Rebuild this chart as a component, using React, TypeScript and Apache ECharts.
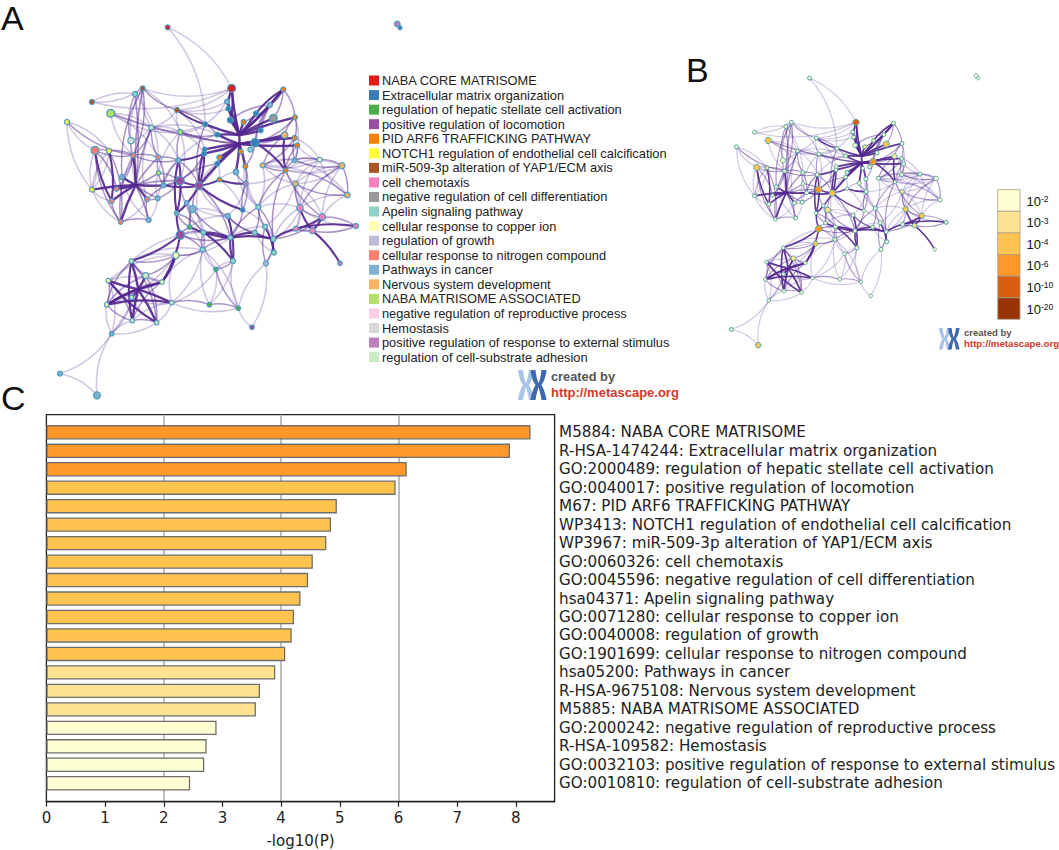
import React, { useEffect, useRef } from "react";
import * as echarts from "echarts";

// ---------- Panel C ----------
const termLabels = [
  "M5884: NABA CORE MATRISOME",
  "R-HSA-1474244: Extracellular matrix organization",
  "GO:2000489: regulation of hepatic stellate cell activation",
  "GO:0040017: positive regulation of locomotion",
  "M67: PID ARF6 TRAFFICKING PATHWAY",
  "WP3413: NOTCH1 regulation of endothelial cell calcification",
  "WP3967: miR-509-3p alteration of YAP1/ECM axis",
  "GO:0060326: cell chemotaxis",
  "GO:0045596: negative regulation of cell differentiation",
  "hsa04371: Apelin signaling pathway",
  "GO:0071280: cellular response to copper ion",
  "GO:0040008: regulation of growth",
  "GO:1901699: cellular response to nitrogen compound",
  "hsa05200: Pathways in cancer",
  "R-HSA-9675108: Nervous system development",
  "M5885: NABA MATRISOME ASSOCIATED",
  "GO:2000242: negative regulation of reproductive process",
  "R-HSA-109582: Hemostasis",
  "GO:0032103: positive regulation of response to external stimulus",
  "GO:0010810: regulation of cell-substrate adhesion",
];
const logP = [8.25, 7.9, 6.14, 5.95, 4.95, 4.85, 4.77, 4.54, 4.46, 4.33, 4.22, 4.18, 4.07, 3.9, 3.64, 3.57, 2.9, 2.73, 2.69, 2.45];
const barBins = [3, 3, 3, 2, 2, 2, 2, 2, 2, 2, 2, 2, 2, 1, 1, 1, 0, 0, 0, 0];
const xTicks = [0, 1, 2, 3, 4, 5, 6, 7, 8];
const xGridValues = [2, 4, 6];

// ---------- Colour key ----------
const binColors = ["#ffffd4", "#fee391", "#fec44f", "#fe9929", "#d95f0e", "#993404"];
const binExponents = ["-2", "-3", "-4", "-6", "-10", "-20"];

// ---------- Panel A legend ----------
const clusterNames = [
  "NABA CORE MATRISOME",
  "Extracellular matrix organization",
  "regulation of hepatic stellate cell activation",
  "positive regulation of locomotion",
  "PID ARF6 TRAFFICKING PATHWAY",
  "NOTCH1 regulation of endothelial cell calcification",
  "miR-509-3p alteration of YAP1/ECM axis",
  "cell chemotaxis",
  "negative regulation of cell differentiation",
  "Apelin signaling pathway",
  "cellular response to copper ion",
  "regulation of growth",
  "cellular response to nitrogen compound",
  "Pathways in cancer",
  "Nervous system development",
  "NABA MATRISOME ASSOCIATED",
  "negative regulation of reproductive process",
  "Hemostasis",
  "positive regulation of response to external stimulus",
  "regulation of cell-substrate adhesion",
];
const clusterColors = [
  "#e41a1c", "#377eb8", "#4daf4a", "#984ea3", "#ff7f00", "#ffff33", "#a65628", "#f781bf", "#999999", "#8dd3c7",
  "#ffffb3", "#bebada", "#fb8072", "#80b1d3", "#fdb462", "#b3de69", "#fccde5", "#d9d9d9", "#bc80bd", "#ccebc5",
];

// ---------- Network: x, y, cluster, size, p-value bin ----------
const nodes: number[][] = [
  [503, 82, 0, 5, 0], [695, 265, 0, 8, 4], [850, 268, 4, 5, 0], [428, 265, 6, 5, 0], [405, 282, 9, 5, 0],
  [276, 306, 6, 5, 0], [332, 340, 15, 8, 2], [531, 330, 6, 5, 0], [681, 305, 13, 5, 0], [685, 326, 1, 5, 0],
  [810, 315, 13, 5, 0], [820, 355, 8, 8, 2], [768, 340, 1, 5, 0], [885, 352, 4, 5, 0], [201, 366, 5, 5, 0],
  [454, 383, 19, 5, 0], [541, 396, 15, 5, 0], [616, 373, 1, 5, 0], [691, 360, 1, 6, 0], [731, 366, 4, 5, 1],
  [782, 391, 1, 5, 0], [854, 405, 14, 6.5, 1], [884, 414, 4, 5, 0], [892, 436, 4, 5, 0], [652, 404, 1, 5, 0],
  [393, 422, 17, 6.5, 0], [285, 451, 12, 8, 2], [327, 453, 5, 5, 1], [400, 466, 12, 5, 0], [475, 472, 12, 5, 0],
  [765, 428, 1, 8.5, 3], [751, 449, 9, 5, 0], [612, 461, 1, 5, 0], [614, 448, 1, 4.5, 0], [658, 472, 4, 5, 0],
  [723, 455, 4, 4.5, 0], [535, 481, 13, 5, 0], [652, 491, 1, 5, 0], [736, 499, 4, 5, 0], [788, 496, 14, 5, 0],
  [884, 481, 13, 5, 0], [959, 479, 10, 5, 0], [1026, 497, 14, 6, 0], [857, 511, 4, 4.5, 0], [476, 519, 15, 4.5, 0],
  [366, 531, 13, 5, 0], [708, 516, 13, 5.5, 0], [540, 542, 3, 8.5, 3], [658, 539, 4, 4.5, 0], [597, 557, 3, 8, 2],
  [737, 551, 18, 5, 0], [886, 551, 14, 5.5, 1], [276, 569, 5, 5, 0], [350, 567, 12, 4.5, 0], [491, 556, 13, 5, 0],
  [1042, 585, 14, 5.5, 0], [335, 603, 12, 5, 0], [441, 598, 12, 5, 0], [473, 595, 13, 5, 0], [560, 609, 13, 4.5, 0],
  [578, 627, 13, 7, 1], [728, 630, 1, 4.5, 0], [775, 621, 9, 5, 0], [900, 624, 7, 6.5, 2], [967, 651, 7, 6.5, 2],
  [683, 648, 13, 5, 0], [362, 666, 12, 4.5, 0], [446, 660, 13, 5, 0], [530, 640, 13, 4.5, 0], [1068, 678, 7, 5, 0],
  [888, 686, 7, 5, 0], [937, 692, 7, 6, 1], [795, 680, 9, 5, 0], [764, 698, 9, 5, 0], [569, 681, 2, 4.5, 0],
  [610, 697, 9, 5, 0], [691, 713, 9, 5, 0], [820, 717, 9, 5, 0], [541, 705, 3, 8.5, 3], [608, 749, 9, 5, 0],
  [528, 766, 10, 6.5, 2], [822, 758, 9, 5, 0], [699, 783, 9, 5, 0], [798, 790, 11, 5, 0], [1020, 790, 18, 4.5, 0],
  [394, 783, 19, 4.5, 0], [648, 808, 2, 4.5, 0], [437, 827, 19, 6, 1], [325, 842, 10, 4.5, 0], [486, 846, 10, 4.5, 0],
  [395, 892, 19, 4.5, 0], [320, 914, 10, 4.5, 0], [515, 908, 19, 4.5, 0], [628, 914, 2, 4.5, 0], [715, 925, 2, 4.5, 0],
  [397, 962, 19, 4.5, 0], [470, 968, 19, 4.5, 0], [756, 982, 3, 4.5, 0], [335, 1001, 13, 4.5, 0], [180, 1121, 13, 5, 0],
  [291, 1186, 13, 7, 2], [718, 405, -1, 0, 0], [718, 432, -1, 0, 0], [407, 555, -1, 0, 0], [415, 868, -1, 0, 0],
  [1192, 72, 18, 5.5, 0], [1200, 83, 1, 4, 0],
];
const H0 = 101, H1 = 102, H2 = 103, H3 = 104;

const heavyLinks: number[][] = [
  [H0, H1], [1, H0], [9, H0], [18, H0], [19, H0], [12, H0], [10, H0], [2, H0], [13, H0], [20, H0], [17, H0], [11, H0], [8, H0], [24, H0],
  [21, H1], [30, H1], [22, H1], [23, H1], [24, H1], [32, H1], [33, H1], [35, H1], [37, H1], [34, H1], [38, H1], [46, H1], [49, H1],
  [1, 9], [1, 18], [2, 12], [30, 43], [21, 43], [7, 17], [36, 32], [32, 49], [33, 49],
  [52, H2], [28, H2], [53, H2], [66, H2], [56, H2], [54, H2], [57, H2], [45, H2], [26, 56], [27, 56], [49, 54],
  [47, 49], [49, 68], [47, 68], [68, 78], [78, 85], [78, 89], [80, 89], [36, 47], [36, 68], [49, 61], [48, 49], [48, 50],
  [74, 76], [75, 76], [76, 77], [76, 73], [73, 77], [77, 81], [76, 82], [75, 82], [65, 82], [72, 81], [77, 70], [70, 69], [71, 84], [63, 71], [64, 71], [70, 64],
  [85, H3], [87, H3], [88, H3], [89, H3], [90, H3], [91, H3], [92, H3], [95, H3], [96, H3], [91, 92], [88, 96], [85, 95], [89, 91],
];
const mediumLinks: number[][] = [
  [14, 28], [7, 24], [15, 28], [15, 29], [16, 24], [16, 36], [3, 7], [3, 45], [3, 28], [26, 27], [26, 28], [27, 28], [28, 29],
  [29, 36], [29, 54], [44, 29], [44, 54], [47, 54], [47, 58], [58, 57], [57, 67], [66, 67], [56, 66], [62, 43], [62, 72], [61, 50],
  [50, 38], [62, 76], [65, 76], [43, 40], [40, 41], [41, 42], [42, 55], [39, 43], [40, 42], [51, 55], [51, 63], [63, 42], [64, 43],
  [43, 77], [22, 40], [13, 22], [13, 21], [2, 13], [2, 11], [10, 2], [60, 74], [59, 74], [59, 68], [60, 49], [74, 78],
  [75, 79], [79, 80], [80, 85], [80, 87], [86, 82], [86, 94], [92, 93], [93, 94], [83, 72], [85, 87], [88, 91], [91, 95], [95, 96],
  [36, 49], [29, H2], [6, H1], [32, 47], [17, 49], [79, 76], [83, 77], [64, 63], [71, 70],
  [2, 20], [2, 19], [10, 18], [2, 30], [10, 30], [13, 30], [21, 30], [38, 30], [16, H1], [28, 36], [37, 47], [36, 54], [44, 47], [47, 57],
  [26, 53], [26, 66], [27, 66], [28, 66], [28, 53], [3, H2], [4, H2], [15, H2], [67, H2], [58, H2], [44, H2], [47, H2],
  [68, 75], [68, 74], [78, 75], [78, 79], [78, 76], [49, 76], [60, 76], [61, 76], [62, 73], [62, 77], [65, 73], [46, 50],
  [64, 69], [71, 69], [64, 77], [22, 39], [23, 40], [23, 43], [21, 39], [85, 91], [85, 96], [87, 91], [87, 96], [88, 95], [89, 95],
];
const lightLinks: number[][] = [
  [0, 1], [0, 17], [5, 3], [5, 1], [3, 1], [14, 52], [6, 16], [6, 15], [25, 15], [25, 4], [4, 3], [4, 28], [39, 41], [39, 42], [40, 55],
  [41, 55], [51, 42], [64, 55], [23, 41], [43, 50], [62, 51], [86, 93], [86, 75], [92, 86], [97, 94], [97, 83], [79, 93], [79, 94], [94, 83],
  [85, 89], [87, 89], [96, 92], [98, 95], [98, 96], [98, 91], [98, 99], [98, 100], [99, 100], [98, H3], [80, 76], [15, 7], [16, 7], [4, 29],
  [8, 7], [17, 16], [24, 36], [15, 57], [16, 47], [26, 52], [27, 52], [52, 56], [28, 45], [45, 67], [57, 66], [58, 67], [44, 58], [36, 58],
  [39, 51], [39, 62], [38, 62], [46, 62], [48, 61], [50, 62], [50, 65], [60, 65], [61, 72], [65, 73], [72, 77], [73, 81], [62, 63], [51, 72],
  [51, 64], [41, 51], [63, 70], [43, 51], [77, 63], [88, 90], [90, 92], [95, 92], [85, 88], [80, 92], [85, 80], [79, 75], [74, 79], [74, 65],
  [59, 65], [49, 65], [47, 59], [60, 75], [37, 49], [34, 49], [37, 48], [33, 7], [32, 16], [1, 8],
  [25, H2], [14, 27], [14, 26], [52, 26], [52, 27], [52, 66], [60, 59], [49, 75], [47, 75], [72, 76], [65, 77], [50, 61], [38, 50], [38, 61], [46, 48],
  [41, 43], [42, 43], [42, 51], [55, 39], [55, 43], [41, 63], [42, 64], [55, 63], [51, 71], [51, 70], [63, 69], [63, 77], [71, 77], [13, 40], [22, 41], [39, 40],
  [80, 88], [80, 91], [79, 85], [75, 85], [79, 89], [79, 92], [82, 93], [82, 94], [82, 86], [81, 83], [86, 79], [92, 94], [90, 91], [90, 96], [98, 88], [98, 90], [88, 89],
  [15, 16], [3, 15], [3, 16], [3, 25], [6, 28], [6, 29], [5, 4], [7, 1], [7, 9], [17, 1], [15, 17], [15, 24], [15, 36], [16, 44],
];

echarts.graphic.registerShape(
  "metascapeX",
  echarts.graphic.extendPath(
    "M0 0 L5 0 C6 8 7 11 8 13 C9 11 10 8 11 0 L16 0 C15 10 12 13 11 15 C12 17 15 22 16 30 L11 30 C10 24 9 20 8 17 C7 20 6 24 5 30 L0 30 C1 22 4 17 5 15 C4 13 1 10 0 0 Z",
    {}
  )
);

const panelLetters: [string, number, number][] = [["A", 1, 18], ["B", 686, 70], ["C", 1, 398]];

function linkSet(links: number[][], width: number, color: string, curve: number) {
  return links.map(([a, b]) => {
    const hub = a >= H0 && a <= H3 || b >= H0 && b <= H3;
    const c = hub ? curve * 0.4 : curve;
    return { source: a, target: b, lineStyle: { width: hub ? width * 1.15 : width, color, opacity: 1, curveness: (a + b) % 2 ? c : -c } };
  });
}

function allLinks(k: number) {
  return [
    ...linkSet(lightLinks, 1.5 * k, "rgba(96,62,160,0.3)", 0.18),
    ...linkSet(mediumLinks, 1.5 * k, "rgba(84,39,143,0.5)", 0.16),
    ...linkSet(heavyLinks, 2.1 * k, "rgba(84,39,143,0.92)", 0.1),
  ];
}

function logo(x: number, y: number, k: number, textK: number, textX: number, y1: number, y2: number) {
  const font = "Liberation Sans";
  return [
    { type: "metascapeX", x, y, scaleX: k, scaleY: k, style: { fill: "#a9c4e8" } },
    { type: "metascapeX", x: x + 12.5 * k, y, scaleX: k, scaleY: k, style: { fill: "#3f68b0" } },
    { type: "text", x: textX, y: y1, style: { text: "created by", fontFamily: font, fontSize: 12.8 * textK, fontWeight: "bold", fill: "#555", verticalAlign: "middle" } },
    { type: "text", x: textX, y: y2, style: { text: "http://metascape.org", fontFamily: font, fontSize: 13 * textK, fontWeight: "bold", fill: "#d23a28", verticalAlign: "middle" } },
  ];
}

const hiddenValueAxis = (gridIndex: number, min: number, max: number, inverse = false) => ({
  type: "value" as const, gridIndex, min, max, inverse, show: false, splitLine: { show: false },
});

export default function App() {
  const ref = useRef<HTMLDivElement>(null);
  useEffect(() => {
    const chart = echarts.init(ref.current!, undefined, { renderer: "svg" });
    const grids = [
      { left: 46.4, top: 414.7, width: 508.2, height: 387, show: true, borderColor: "#222", borderWidth: 1.3, backgroundColor: "#fff" },
      { left: 46.4, top: 423.07, width: 508.2, height: 369.4 },
      { left: 0, top: 0, width: 420, height: 410 },
      { left: 687.8, top: 58.2, width: 420 * 0.726, height: 410 * 0.726 },
    ];
    chart.setOption({
      animation: false,
      backgroundColor: "#fff",
      grid: grids,
      xAxis: [
        {
          type: "value", gridIndex: 0, min: 0, max: 8.66, position: "bottom", name: "-log10(P)", nameLocation: "middle", nameGap: 31.5,
          nameTextStyle: { fontFamily: "DejaVu Sans", fontSize: 15, color: "#222" },
          axisLine: { show: true, onZero: false, lineStyle: { color: "#222", width: 1.3 } },
          axisTick: { show: true, length: 5, customValues: xTicks, lineStyle: { color: "#222", width: 1.2 } },
          axisLabel: { customValues: xTicks, fontFamily: "DejaVu Sans", fontSize: 15, color: "#222", margin: 9, formatter: (v: number) => String(v) },
          splitLine: { show: false },
        },
        {
          type: "value", gridIndex: 0, min: 0, max: 8.66, position: "bottom",
          axisLine: { show: false }, axisLabel: { show: false },
          axisTick: { show: false, customValues: xGridValues },
          splitLine: { show: true, lineStyle: { color: "#b8b8b8", width: 1.8 } },
        },
        hiddenValueAxis(1, 0, 8.66),
        hiddenValueAxis(2, 0, 1260),
        hiddenValueAxis(3, 0, 1260),
      ],
      yAxis: [
        hiddenValueAxis(0, 0, 1),
        {
          type: "category", gridIndex: 1, data: termLabels, inverse: true, position: "right",
          axisLine: { show: false }, axisTick: { show: false },
          axisLabel: { interval: 0, fontFamily: "DejaVu Sans", fontSize: 15.15, color: "#222", margin: 4.5, padding: [2, 0, 0, 0] },
        },
        hiddenValueAxis(2, 0, 1230, true),
        hiddenValueAxis(3, 0, 1230, true),
      ],
      legend: {
        left: 369, top: 74, padding: 0, orient: "vertical", itemWidth: 10, itemHeight: 10, itemGap: 1.56, selectedMode: false, icon: "rect",
        data: clusterNames,
        itemStyle: { borderWidth: 0 },
        textStyle: { fontFamily: "Liberation Sans", fontSize: 12.8, color: "#222", padding: [0, 0, 0, -2] },
      },
      series: [
        {
          type: "bar", xAxisIndex: 2, yAxisIndex: 1, barWidth: 14.4,
          data: logP.map((v, i) => ({ value: v, itemStyle: { color: binColors[barBins[i]] } })),
          itemStyle: { borderColor: "#6e6e6e", borderWidth: 1.3 },
        },
        {
          type: "graph", name: "cluster network", coordinateSystem: "cartesian2d", xAxisIndex: 3, yAxisIndex: 2, layout: "none", silent: true,
          categories: clusterNames.map((name, i) => ({ name, itemStyle: { color: clusterColors[i] } })),
          data: nodes.map(([x, y, g, s]) => ({
            value: [x, y], symbolSize: s, ...(g >= 0 ? { category: g } : { itemStyle: { opacity: 0 } }),
          })),
          itemStyle: { borderColor: "#4f9bbd", borderWidth: 1.2 },
          links: allLinks(1),
        },
        {
          type: "graph", name: "p-value network", coordinateSystem: "cartesian2d", xAxisIndex: 4, yAxisIndex: 3, layout: "none", silent: true,
          data: nodes.map(([x, y, g, s, b]) => ({
            value: [x, y], symbolSize: s * 0.78, itemStyle: { color: binColors[b], opacity: g >= 0 ? 1 : 0 },
          })),
          itemStyle: { borderColor: "#56a9a6", borderWidth: 1 },
          links: allLinks(0.75),
        },
      ],
      graphic: {
        elements: [
          ...panelLetters.map(([text, x, y]) => ({
            type: "text", x, y, style: { text, fontFamily: "Liberation Sans", fontSize: 34, fill: "#111", verticalAlign: "middle" },
          })),
          ...binColors.map((color, i) => ({
            type: "rect", shape: { x: 997.7, y: 189.7 + i * 21.6, width: 22.3, height: 21.6 },
            style: { fill: color, stroke: "#a7a08c", lineWidth: 0.8 },
          })),
          ...binExponents.map((e, i) => ({
            type: "text", x: 1026.5, y: 201 + i * 21.6,
            style: {
              text: `{b|10}{s|${e}}`, verticalAlign: "middle",
              rich: {
                b: { fontFamily: "Liberation Sans", fontSize: 13, fill: "#111", color: "#111" },
                s: { fontFamily: "Liberation Sans", fontSize: 8.5, fill: "#111", color: "#111", verticalAlign: "top" },
              },
            },
          })),
          ...logo(518, 370, 1, 1, 551, 376, 392),
          ...logo(939, 328, 0.72, 0.745, 964, 332.5, 343),
        ],
      },
    });
    return () => chart.dispose();
  }, []);
  return <div ref={ref} style={{ position: "absolute", left: 0, top: 0, width: 1059, height: 850 }} />;
}
